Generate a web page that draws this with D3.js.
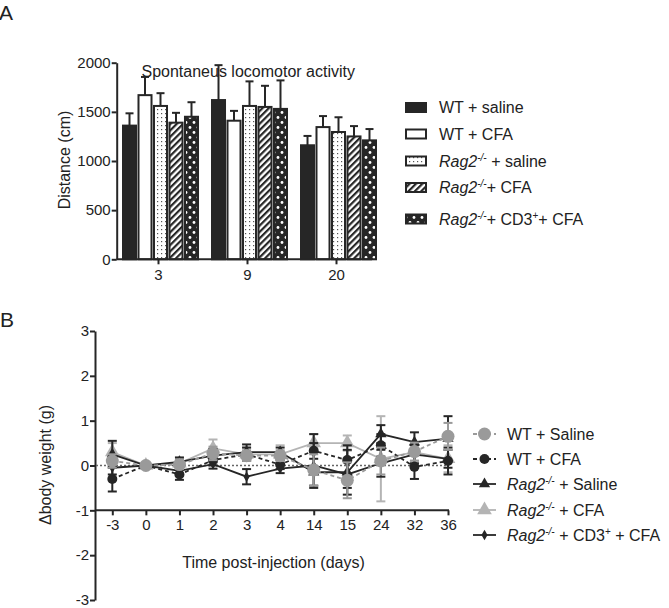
<!DOCTYPE html>
<html><head><meta charset="utf-8">
<script src="https://cdn.jsdelivr.net/npm/d3@7"></script>
<style>
body{margin:0;background:#fff;}
svg{font-family:"Liberation Sans",Arial,sans-serif;}
</style></head>
<body>
<svg id="c" width="669" height="608"></svg>
<script>
// ---------- Panel A data ----------
const groupsA = ["3","9","20"];
const seriesA = ["WT + saline","WT + CFA","Rag2 + saline","Rag2 + CFA","Rag2 + CD3 + CFA"];
const wtSalineA = [1360, 1620, 1160];
const wtCfaA = [1670, 1410, 1345];
const ragSalineA = [1560, 1560, 1295];
const ragCfaA = [1390, 1550, 1250];
const ragCd3A = [1450, 1530, 1210];
const wtSalineAErr = [125, 355, 95];
const wtCfaAErr = [185, 100, 112];
const ragSalineAErr = [130, 250, 150];
const ragCfaAErr = [100, 215, 105];
const ragCd3AErr = [148, 290, 115];
const yTicksA = [0, 500, 1000, 1500, 2000];

// ---------- Panel B data ----------
const daysB = ["-3","0","1","2","3","4","14","15","24","32","36"];
const wtSalineB = [0.1, 0, 0.02, 0.27, 0.22, 0.22, -0.1, -0.33, 0.1, 0.31, 0.65];
const wtSalineBErr = [0.15, 0, 0.1, 0.15, 0.12, 0.12, 0.35, 0.4, 0.3, 0.2, 0.3];
const wtCfaB = [-0.3, 0, -0.2, 0.12, 0.25, 0.02, 0.33, 0.12, 0.45, -0.03, 0.1];
const wtCfaBErr = [0.28, 0, 0.12, 0.12, 0.15, 0.1, 0.37, 0.33, 0.25, 0.27, 0.3];
const ragSalineB = [0.25, 0, 0.08, 0.22, 0.3, 0.3, -0.15, -0.15, 0.7, 0.52, 0.6];
const ragSalineBErr = [0.3, 0, 0.1, 0.15, 0.17, 0.1, 0.3, 0.5, 0.2, 0.22, 0.5];
const ragCfaB = [0.3, 0, 0.05, 0.38, 0.25, 0.25, 0.5, 0.5, 0.15, 0.3, 0.15];
const ragCfaBErr = [0.2, 0, 0.1, 0.2, 0.15, 0.2, 0.2, 0.17, 0.95, 0.2, 0.3];
const ragCd3B = [-0.05, 0, -0.12, 0.03, -0.25, -0.07, 0.0, -0.2, 0.05, 0.25, 0.15];
const ragCd3BErr = [0.15, 0, 0.1, 0.1, 0.17, 0.1, 0.5, 0.3, 0.3, 0.2, 0.2];
const yTicksB = [-3, -2, -1, 0, 1, 2, 3];

const INK = "#262626";
const svg = d3.select("#c");

// ---------- patterns ----------
const defs = svg.append("defs");
const pDot = defs.append("pattern").attr("id","pDot").attr("patternUnits","userSpaceOnUse").attr("width",4).attr("height",4);
pDot.append("rect").attr("width",4).attr("height",4).attr("fill","#fff");
pDot.append("rect").attr("x",1).attr("y",1).attr("width",1.2).attr("height",1.2).attr("fill","#555");
const pHatch = defs.append("pattern").attr("id","pHatch").attr("patternUnits","userSpaceOnUse").attr("width",4.5).attr("height",4.5).attr("patternTransform","rotate(45)");
pHatch.append("rect").attr("width",4.5).attr("height",4.5).attr("fill","#fff");
pHatch.append("rect").attr("width",2.2).attr("height",4.5).attr("fill",INK);
const pBig = defs.append("pattern").attr("id","pBig").attr("patternUnits","userSpaceOnUse").attr("width",8).attr("height",10);
pBig.append("rect").attr("width",8).attr("height",10).attr("fill",INK);
pBig.append("circle").attr("cx",2).attr("cy",2.5).attr("r",1.4).attr("fill","#fff");
pBig.append("circle").attr("cx",6).attr("cy",7.5).attr("r",1.4).attr("fill","#fff");

const fills = [INK, "#fff", "url(#pDot)", "url(#pHatch)", "url(#pBig)"];
const valsA = [wtSalineA, wtCfaA, ragSalineA, ragCfaA, ragCd3A];
const errsA = [wtSalineAErr, wtCfaAErr, ragSalineAErr, ragCfaAErr, ragCd3AErr];

// ---------- Panel A ----------
const yA = d3.scaleLinear().domain([0,2000]).range([259.3, 62.7]);
const xA = d3.scaleBand().domain(groupsA).range([114, 381]);
const inner = d3.scaleBand().domain(d3.range(seriesA.length)).range([-35.5, 39.5]).paddingInner(0.16);

const gA = svg.append("g");
groupsA.forEach((g, gi) => {
  const cx = xA(g) + xA.bandwidth()/2;
  seriesA.forEach((s, si) => {
    const x0 = cx + inner(si);
    const w = inner.bandwidth();
    const v = valsA[si][gi], e = errsA[si][gi];
    gA.append("line").attr("x1", x0+w/2).attr("x2", x0+w/2).attr("y1", yA(v)).attr("y2", yA(v+e)).attr("stroke", INK).attr("stroke-width",2);
    gA.append("line").attr("x1", x0+w/2-4).attr("x2", x0+w/2+4).attr("y1", yA(v+e)).attr("y2", yA(v+e)).attr("stroke", INK).attr("stroke-width",2);
    gA.append("rect").attr("x", x0).attr("y", yA(v)).attr("width", w).attr("height", yA(0)-yA(v))
      .attr("fill", fills[si]).attr("stroke", INK).attr("stroke-width", 2);
  });
});

const axA = svg.append("g").attr("transform","translate(116.7,0)")
  .call(d3.axisLeft(yA).tickValues(yTicksA).tickFormat(d3.format("d")).tickSize(5).tickSizeOuter(0));
axA.select(".domain").attr("stroke", INK).attr("stroke-width",2);
axA.selectAll(".tick line").attr("stroke", INK).attr("stroke-width",2);
axA.selectAll(".tick text").attr("font-size",15).attr("fill","#222").attr("font-family","Liberation Sans, Arial, sans-serif").attr("x",-6);

const axAx = svg.append("g").attr("transform","translate(0,259.3)")
  .call(d3.axisBottom(xA).tickSize(5).tickSizeOuter(0));
axAx.select(".domain").remove();
axAx.selectAll(".tick line").attr("stroke", INK).attr("stroke-width",2);
axAx.selectAll(".tick text").attr("font-size",15).attr("fill","#222").attr("font-family","Liberation Sans, Arial, sans-serif").attr("y",10);
svg.append("line").attr("x1",116.7).attr("x2",372).attr("y1",yA(0)).attr("y2",yA(0)).attr("stroke",INK).attr("stroke-width",2);

svg.append("text").attr("x",141.5).attr("y",77).attr("font-size",16).attr("fill","#222").text("Spontaneus locomotor activity");
svg.append("text").attr("transform","translate(70,160) rotate(-90)").attr("text-anchor","middle").attr("font-size",16).attr("fill","#222").text("Distance (cm)");
svg.append("text").attr("x",-1).attr("y",20).attr("font-size",21).attr("fill","#222").text("A");

function rag(t, pre, sup, post){
  t.append("tspan").attr("font-style","italic").text(pre);
  t.append("tspan").attr("font-style","italic").attr("font-size",10).attr("dy",-6).text(sup);
  t.append("tspan").attr("dy",6).text(post);
}
function labelParts(t, i, b){
  if(i===0) t.text(b ? "WT + Saline" : "WT + saline");
  else if(i===1) t.text("WT + CFA");
  else if(i===2) rag(t,"Rag2","-/-", b ? " + Saline" : " + saline");
  else if(i===3) rag(t,"Rag2","-/-", b ? " + CFA" : "+ CFA");
  else {
    rag(t,"Rag2","-/-", b ? " + CD3" : "+ CD3");
    t.append("tspan").attr("font-size",10).attr("dy",-6).text("+");
    t.append("tspan").attr("dy",6).text(b ? " + CFA" : "+ CFA");
  }
}
const legAy = [107.5, 134, 161, 187.5, 219];
seriesA.forEach((s,i)=>{
  svg.append("rect").attr("x",406).attr("y",legAy[i]-4.5).attr("width",20).attr("height",9).attr("fill",fills[i]).attr("stroke",INK).attr("stroke-width",2);
  const t = svg.append("text").attr("x",439).attr("y",legAy[i]+5.5).attr("font-size",16).attr("fill","#222");
  labelParts(t, i, false);
});

// ---------- Panel B ----------
const yB = d3.scaleLinear().domain([-3,3]).range([600,331]);
const xB = d3.scalePoint().domain(daysB).range([112.3, 448]);

const axB = svg.append("g").attr("transform","translate(95,0)")
  .call(d3.axisLeft(yB).tickValues(yTicksB).tickFormat(d3.format("d")).tickSize(5).tickSizeOuter(0));
axB.select(".domain").attr("stroke", INK).attr("stroke-width",2);
axB.selectAll(".tick line").attr("stroke", INK).attr("stroke-width",2);
axB.selectAll(".tick text").attr("font-size",15).attr("fill","#222").attr("font-family","Liberation Sans, Arial, sans-serif").attr("x",-6)
  .text(d => String(d));

const axBx = svg.append("g").attr("transform",`translate(0,${yB(-1)})`)
  .call(d3.axisBottom(xB).tickSize(5).tickSizeOuter(0));
axBx.select(".domain").remove();
axBx.selectAll(".tick line").attr("stroke", INK).attr("stroke-width",2);
axBx.selectAll(".tick text").attr("font-size",15).attr("fill","#222").attr("font-family","Liberation Sans, Arial, sans-serif").attr("y",9);
svg.append("line").attr("x1",95).attr("x2",449).attr("y1",yB(-1)).attr("y2",yB(-1)).attr("stroke",INK).attr("stroke-width",2);

svg.append("line").attr("x1",96).attr("x2",449).attr("y1",yB(0)).attr("y2",yB(0)).attr("stroke","#666").attr("stroke-width",1.5).attr("stroke-dasharray","2,2");

const seriesB = [
  {v: wtSalineB, e: wtSalineBErr, color:"#9a9a9a", dash:"4,3", shape:"circle", r:6.5},
  {v: wtCfaB, e: wtCfaBErr, color:INK, dash:"4,3", shape:"circle", r:5},
  {v: ragSalineB, e: ragSalineBErr, color:INK, dash:null, shape:"triangle", r:5},
  {v: ragCfaB, e: ragCfaBErr, color:"#b4b4b4", dash:null, shape:"triangle", r:6.5},
  {v: ragCd3B, e: ragCd3BErr, color:INK, dash:null, shape:"diamond", r:4.5}
];
const drawOrder = [3,1,2,4,0];
function symPath(s, r){
  if(s.shape==="circle") return d3.symbol(d3.symbolCircle, Math.PI*r*r)();
  if(s.shape==="triangle") return d3.symbol(d3.symbolTriangle, r*r*2.2)();
  return d3.symbol(d3.symbolDiamond, r*r*1.6)();
}
const gB = svg.append("g");
drawOrder.forEach(i=>{
  const s = seriesB[i];
  const g = gB.append("g");
  daysB.forEach((d,k)=>{
    if(s.e[k]===0) return;
    const x = xB(d);
    g.append("line").attr("x1",x).attr("x2",x).attr("y1",yB(s.v[k]-s.e[k])).attr("y2",yB(s.v[k]+s.e[k])).attr("stroke",s.color).attr("stroke-width",2);
    [s.v[k]-s.e[k], s.v[k]+s.e[k]].forEach(yy=>{
      g.append("line").attr("x1",x-4.5).attr("x2",x+4.5).attr("y1",yB(yy)).attr("y2",yB(yy)).attr("stroke",s.color).attr("stroke-width",2);
    });
  });
  const line = d3.line().x((v,k)=>xB(daysB[k])).y(v=>yB(v));
  g.append("path").attr("d", line(s.v)).attr("fill","none").attr("stroke",s.color).attr("stroke-width",1.8).attr("stroke-dasharray",s.dash);
  daysB.forEach((d,k)=>{
    g.append("path").attr("d", symPath(s, s.r)).attr("transform",`translate(${xB(d)},${yB(s.v[k])})`).attr("fill",s.color);
  });
});

svg.append("text").attr("x",273.5).attr("y",568).attr("text-anchor","middle").attr("font-size",16).attr("fill","#222").text("Time post-injection (days)");
svg.append("text").attr("transform","translate(51,465) rotate(-90)").attr("text-anchor","middle").attr("font-size",16).attr("fill","#222").text("Δbody weight (g)");
svg.append("text").attr("x",0).attr("y",327).attr("font-size",21).attr("fill","#222").text("B");

const legBy = [434, 459, 484, 510, 535];
seriesB.forEach((s,i)=>{
  svg.append("line").attr("x1",473).attr("x2",496).attr("y1",legBy[i]).attr("y2",legBy[i]).attr("stroke",s.color).attr("stroke-width",1.8).attr("stroke-dasharray",s.dash);
  svg.append("path").attr("d", symPath(s, s.r)).attr("transform",`translate(484.5,${legBy[i]})`).attr("fill",s.color);
  const t = svg.append("text").attr("x",507).attr("y",legBy[i]+5.5).attr("font-size",16).attr("fill","#222");
  labelParts(t, i, true);
});
</script>
</body></html>
